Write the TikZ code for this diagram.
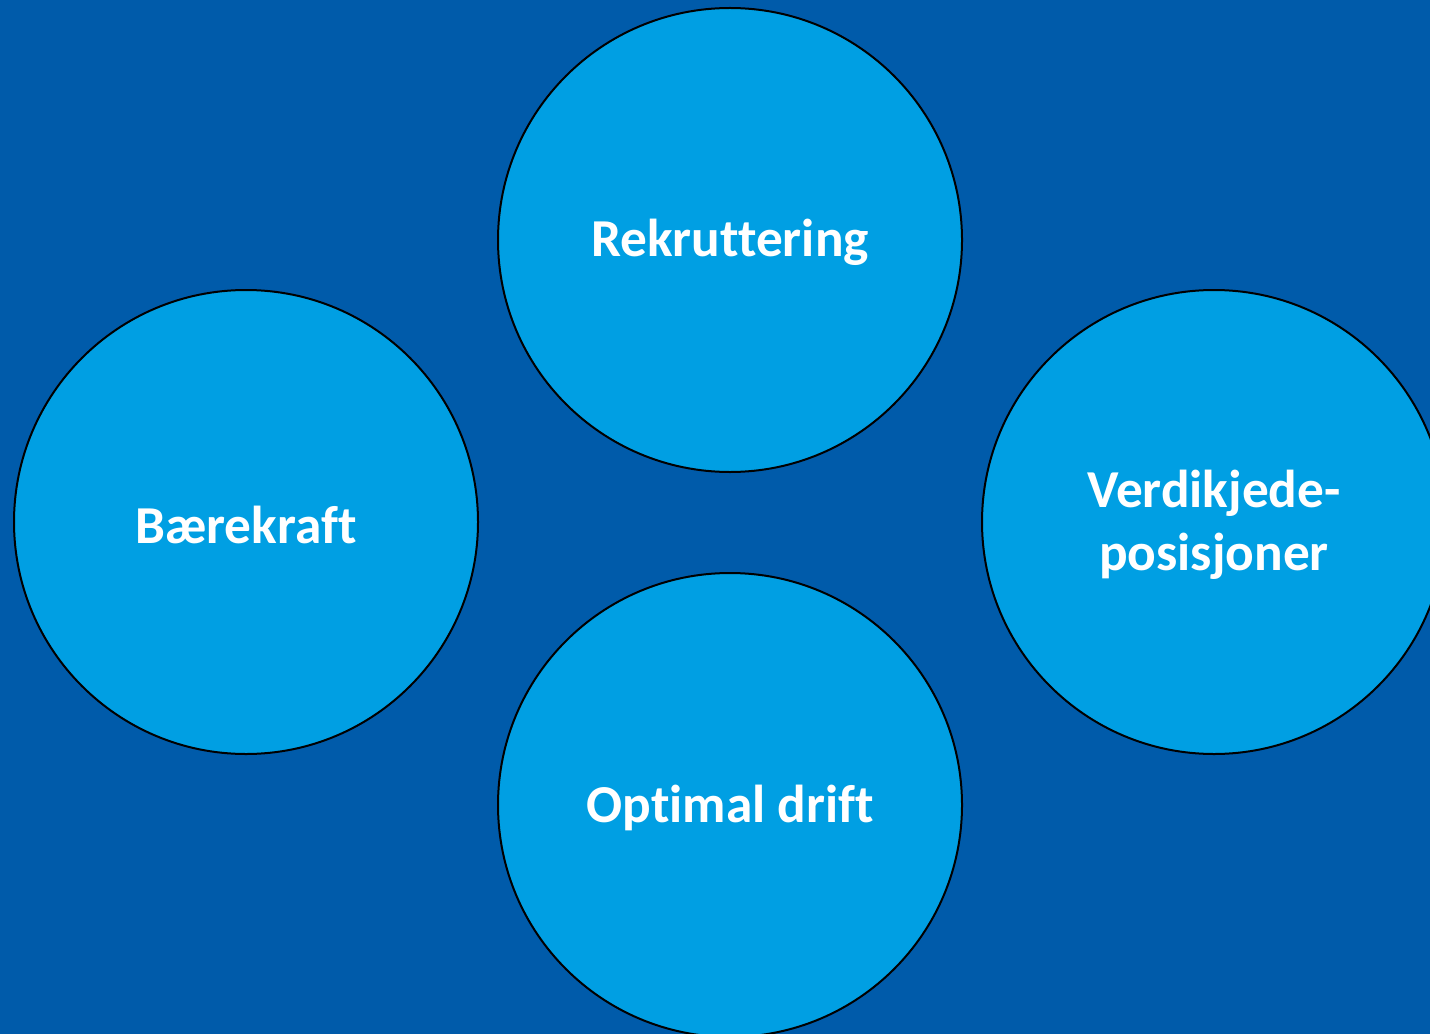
\documentclass[tikz,border=0pt]{standalone}
\usepackage{fontspec}
\setmainfont{Carlito}[Ligatures=NoCommon]
\usepackage{tikz}
\definecolor{bgblue}{RGB}{0,91,170}
\definecolor{circblue}{RGB}{0,159,227}
\tikzset{
  focus/.style={circle, draw=black, line width=1.5pt, fill=circblue, minimum size=348pt, inner sep=0pt},
  focustext/.style={text=white, align=center, yshift=-2pt, font=\bfseries\fontsize{40}{47}\selectfont}
}

\begin{document}
\begin{tikzpicture}[x=0.75pt,y=0.75pt,yscale=-1,xscale=1]
%set diagram to 1430 x 1034
\useasboundingbox (0,0) rectangle (1430,1034);
\fill[bgblue] (0,0) rectangle (1430,1034);
\clip (0,0) rectangle (1430,1034);

%Shape: Circle top
\node[focus, label={[focustext]center:Rekruttering}] (rekruttering) at (730,240) {};
%Shape: Circle left
\node[focus, label={[focustext]center:Bærekraft}] (baerekraft) at (246,522) {};
%Shape: Circle right
\node[focus, label={[focustext]center:Verdikjede-\\posisjoner}] (verdikjede) at (1214,522) {};
%Shape: Circle bottom
\node[focus, label={[focustext]center:Optimal drift}] (drift) at (730,805) {};

\end{tikzpicture}
\end{document}
